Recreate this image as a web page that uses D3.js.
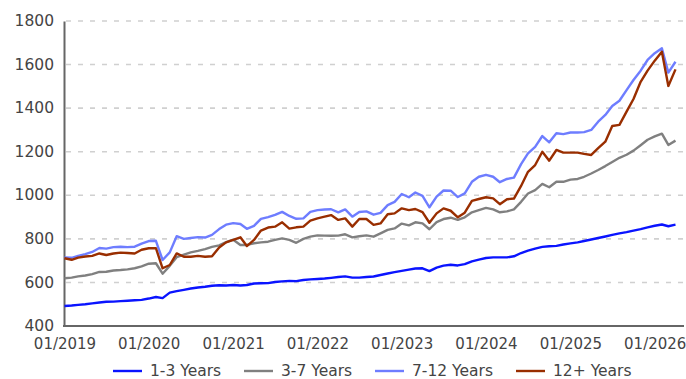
<!DOCTYPE html>
<html>
<head>
<meta charset="utf-8">
<script src="https://cdn.jsdelivr.net/npm/d3@7"></script>
<style>
  body { margin: 0; background: #fff; }
  svg { display: block; font-family: "DejaVu Sans", sans-serif; }
</style>
</head>
<body>
<svg id="chart" width="686" height="379"></svg>
<script>
// Monthly index levels, 01/2019 – 04/2026
const months = d3.timeMonth.range(new Date(2019, 0, 1), new Date(2026, 4, 1));

const years1to3 = [
  492, 494, 497, 500, 504, 508, 511, 512, 514, 516, 518, 520,
  526, 533, 528, 553, 560, 566, 572, 577, 580, 585, 587, 586,
  588, 586, 588, 595, 596, 597, 602, 605, 607, 606, 611, 614,
  616, 618, 621, 625, 628, 622, 622, 625, 627, 634, 641, 647,
  653, 659, 664, 665, 652, 668, 677, 681, 678, 684, 697, 705,
  712, 715, 715, 715, 720, 735, 746, 755, 763, 766, 768, 774,
  779, 784, 790, 797, 804, 811, 818, 825, 831, 838, 845, 853,
  860, 866, 858, 865
];

const years3to7 = [
  619, 622, 628, 632, 638, 648, 649, 655, 657, 660, 665, 674,
  686, 688, 640, 676, 716, 728, 738, 745, 753, 763, 770, 785,
  796, 772, 772, 780, 784, 787, 795, 802, 795, 782, 800, 810,
  816, 815, 814, 815, 821, 807, 812, 816, 810, 825, 841, 848,
  870, 862, 876, 871, 844, 877, 891, 897, 887, 899, 922, 932,
  942, 935, 922, 926, 935, 970, 1008, 1024, 1052, 1037, 1062, 1062,
  1072, 1075, 1085, 1100, 1116, 1134, 1153, 1172, 1186, 1205, 1230, 1255,
  1270, 1283, 1231, 1251
];

const years7to12 = [
  715, 713, 722, 730, 740, 758, 755, 762, 764, 762, 764, 778,
  790, 791, 703, 738, 812, 800, 804, 808, 806, 818, 845, 865,
  872, 868, 846, 860, 892, 900, 910, 924, 905, 892, 894, 924,
  932, 935, 936, 922, 935, 902, 923, 926, 911, 919, 955, 970,
  1006, 991, 1013, 997, 945, 994, 1022, 1021, 992, 1009, 1062, 1085,
  1094, 1085, 1060, 1075, 1081, 1143, 1192, 1222, 1272, 1243, 1285, 1281,
  1288, 1288, 1290, 1300, 1338, 1369, 1410, 1434, 1483, 1529, 1572, 1621,
  1652, 1675, 1563, 1613
];

const years12plus = [
  711, 704, 714, 719, 722, 733, 726, 733, 737, 735, 733, 750,
  757, 757, 665, 680, 733, 718, 718, 722, 718, 720, 760, 784,
  795, 807, 767, 795, 838, 852, 856, 876, 847, 853, 856, 884,
  894, 902, 909, 887, 894, 856, 891, 891, 864, 871, 913, 917,
  940, 932, 937, 923, 874, 917, 940, 929, 899, 920, 974, 983,
  991, 986, 959, 982, 985, 1043, 1108, 1139, 1200, 1159, 1208, 1196,
  1196, 1196, 1190, 1185, 1216, 1246, 1318, 1323, 1384, 1442, 1521, 1572,
  1618, 1659, 1502, 1578
];

const seriesNames = ["1-3 Years", "3-7 Years", "7-12 Years", "12+ Years"];
const seriesColors = ["#0a14ff", "#808080", "#6e7dff", "#992e00"];
const seriesValues = [years1to3, years3to7, years7to12, years12plus];

const yTicks = [400, 600, 800, 1000, 1200, 1400, 1600, 1800];
const xTicks = d3.range(2019, 2027).map(y => new Date(y, 0, 1));

const svg = d3.select("#chart");

const x = d3.scaleTime()
  .domain([months[0], months[months.length - 1]])
  .range([64.5, 675.5]);

const y = d3.scaleLinear()
  .domain([400, 1800])
  .range([326, 21]);

// Dashed horizontal grid
svg.append("g")
  .selectAll("line")
  .data(yTicks.filter(t => t > 400))
  .join("line")
  .attr("x1", 66)
  .attr("x2", 684)
  .attr("y1", d => y(d))
  .attr("y2", d => y(d))
  .attr("stroke", "#d0d0d0")
  .attr("stroke-width", 1.6)
  .attr("stroke-dasharray", "5,7");

// Axes
const yAxis = svg.append("g")
  .attr("transform", "translate(64,0)")
  .call(d3.axisLeft(y).tickValues(yTicks).tickSize(0).tickPadding(10).tickFormat(d3.format("d")));

const xAxis = svg.append("g")
  .attr("transform", "translate(0,326)")
  .call(d3.axisBottom(x).tickValues(xTicks).tickSize(0).tickPadding(12).tickFormat(d3.timeFormat("%m/%Y")));

[yAxis, xAxis].forEach(g => {
  g.select(".domain").attr("stroke", "#666").attr("stroke-width", 2);
  g.selectAll("text")
    .attr("fill", "#444")
    .style("font-size", "15.5px")
    .style("font-family", "'DejaVu Sans', sans-serif");
});
yAxis.selectAll("text").attr("dy", "0.3em");
xAxis.selectAll("text").style("font-size", "15px");
xAxis.select(".domain").attr("d", "M63,0H684");

// Series lines
const line = d3.line()
  .x((d, i) => x(months[i]))
  .y(d => y(d));

svg.append("g")
  .selectAll("path")
  .data(seriesValues)
  .join("path")
  .attr("d", d => line(d))
  .attr("fill", "none")
  .attr("stroke", (d, i) => seriesColors[i])
  .attr("stroke-width", 2.4)
  .attr("stroke-linejoin", "round");

// Legend
const legendX = [113, 244, 375, 516];
const legend = svg.append("g")
  .selectAll("g")
  .data(seriesNames)
  .join("g")
  .attr("transform", (d, i) => `translate(${legendX[i]},371)`);

legend.append("line")
  .attr("x1", 0).attr("x2", 29)
  .attr("stroke", (d, i) => seriesColors[i])
  .attr("stroke-width", 2.4);

legend.append("text")
  .attr("x", 37)
  .attr("dy", "0.35em")
  .attr("fill", "#444")
  .style("font-size", "15.5px")
  .text(d => d);
</script>
</body>
</html>
